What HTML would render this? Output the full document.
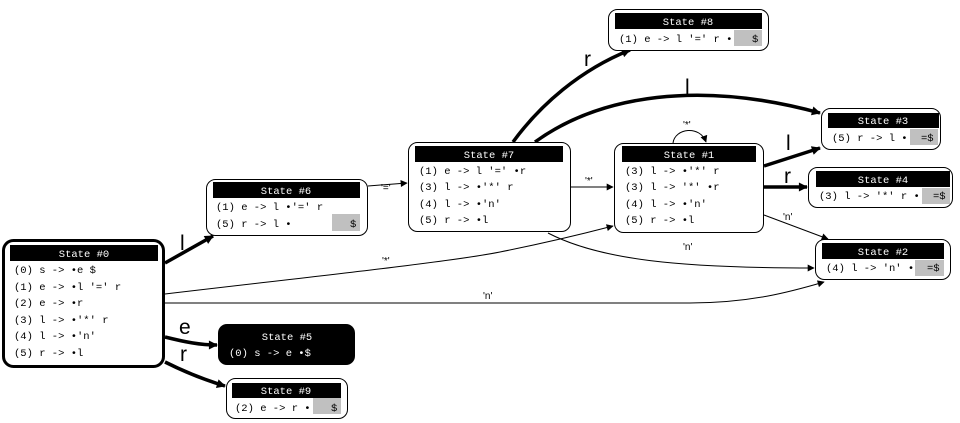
<!DOCTYPE html>
<html><head><meta charset="utf-8"><style>
html,body{margin:0;padding:0;background:#fff;width:960px;height:423px;overflow:hidden}
svg text{font-family:"Liberation Mono",monospace;font-size:10.5px}
.h{fill:#fff;text-anchor:middle}
.lb{font-family:"Liberation Sans",sans-serif;font-size:10px}
.big{font-family:"Liberation Sans",sans-serif;font-size:21px}
</style></head><body>
<svg width="960" height="423" viewBox="0 0 960 423" xmlns="http://www.w3.org/2000/svg">
<defs>
<marker id="a" viewBox="0 0 10 10" refX="9" refY="5" markerWidth="9" markerHeight="7" markerUnits="userSpaceOnUse" orient="auto"><path d="M0,0L10,5L0,10z" fill="#000"/></marker>
<marker id="b" viewBox="0 0 10 10" refX="9" refY="5" markerWidth="11" markerHeight="9" markerUnits="userSpaceOnUse" orient="auto"><path d="M0,0L10,5L0,10z" fill="#000"/></marker>
</defs>
<g fill="none" stroke="#000">
<!-- thin edges -->
<path d="M165,294 C300,278 450,262 500,252 C560,240 590,232 613,226" stroke-width="1" marker-end="url(#a)"/>
<path d="M165,303 L690,303 C750,303 790,292 824,282" stroke-width="1" marker-end="url(#a)"/>
<path d="M368,186 L407,183" stroke-width="1" marker-end="url(#a)"/>
<path d="M571,187 L613,187" stroke-width="1" marker-end="url(#a)"/>
<path d="M548,233 C600,260 680,268 814,268" stroke-width="1" marker-end="url(#a)"/>
<path d="M764,215 L828,239" stroke-width="1" marker-end="url(#a)"/>
<path d="M673,143 C675,128 700,125 706,142" stroke-width="1" marker-end="url(#a)"/>
<!-- thick edges -->
<path d="M165,263 L213,236" stroke-width="3.5" marker-end="url(#b)"/>
<path d="M165,337 C185,342 200,345 217,345" stroke-width="3.5" marker-end="url(#b)"/>
<path d="M165,362 C185,372 205,380 225,386" stroke-width="3.5" marker-end="url(#b)"/>
<path d="M513,142 C540,105 580,70 630,50" stroke-width="3.5" marker-end="url(#b)"/>
<path d="M535,142 C600,95 700,80 820,113" stroke-width="3.5" marker-end="url(#b)"/>
<path d="M764,166 L820,148" stroke-width="3.5" marker-end="url(#b)"/>
<path d="M764,187 L807,187" stroke-width="3.5" marker-end="url(#b)"/>
</g>
<!-- edge labels -->
<g>
<text class="big" x="180" y="250">l</text>
<text class="big" x="179" y="334">e</text>
<text class="big" x="180" y="361">r</text>
<text class="big" x="584" y="66">r</text>
<text class="big" x="685" y="94">l</text>
<text class="big" x="786" y="150">l</text>
<text class="big" x="784" y="183">r</text>
<text class="lb" x="381" y="191">'='</text>
<text class="lb" x="585" y="184">'*'</text>
<text class="lb" x="683" y="128">'*'</text>
<text class="lb" x="382" y="264">'*'</text>
<text class="lb" x="483" y="299">'n'</text>
<text class="lb" x="683" y="250">'n'</text>
<text class="lb" x="783" y="220">'n'</text>
</g>
<!-- State 0 -->
<rect x="3.5" y="240.5" width="160" height="126" rx="10" fill="#fff" stroke="#000" stroke-width="3"/>
<rect x="10" y="245" width="148" height="16" fill="#000"/>
<text class="h" x="84" y="257">State #0</text>
<text x="14" y="273">(0) s -&gt; •e $</text>
<text x="14" y="290">(1) e -&gt; •l '=' r</text>
<text x="14" y="306">(2) e -&gt; •r</text>
<text x="14" y="323">(3) l -&gt; •'*' r</text>
<text x="14" y="339">(4) l -&gt; •'n'</text>
<text x="14" y="356">(5) r -&gt; •l</text>
<!-- State 6 -->
<rect x="206.5" y="179.5" width="161" height="56" rx="9" fill="#fff" stroke="#000"/>
<rect x="213" y="182" width="147" height="16" fill="#000"/>
<text class="h" x="286" y="194">State #6</text>
<rect x="332" y="214" width="28" height="17" fill="#c0c0c0"/>
<text x="216" y="210">(1) e -&gt; l •'=' r</text>
<text x="216" y="227">(5) r -&gt; l •</text>
<text x="350" y="227">$</text>
<!-- State 5 -->
<rect x="218" y="324" width="137" height="41" rx="9" fill="#000"/>
<text class="h" x="287" y="340">State #5</text>
<text x="229" y="356" fill="#fff">(0) s -&gt; e •$</text>
<!-- State 9 -->
<rect x="226.5" y="378.5" width="121" height="40" rx="9" fill="#fff" stroke="#000"/>
<rect x="232" y="383" width="109" height="15" fill="#000"/>
<text class="h" x="286" y="394">State #9</text>
<rect x="313" y="398" width="28" height="16" fill="#c0c0c0"/>
<text x="235" y="411">(2) e -&gt; r •</text>
<text x="331" y="411">$</text>
<!-- State 7 -->
<rect x="408.5" y="142.5" width="162" height="89" rx="9" fill="#fff" stroke="#000"/>
<rect x="415" y="146" width="148" height="16" fill="#000"/>
<text class="h" x="489" y="158">State #7</text>
<text x="419" y="174">(1) e -&gt; l '=' •r</text>
<text x="419" y="190">(3) l -&gt; •'*' r</text>
<text x="419" y="207">(4) l -&gt; •'n'</text>
<text x="419" y="223">(5) r -&gt; •l</text>
<!-- State 1 -->
<rect x="614.5" y="143.5" width="149" height="89" rx="9" fill="#fff" stroke="#000"/>
<rect x="622" y="146" width="134" height="16" fill="#000"/>
<text class="h" x="689" y="158">State #1</text>
<text x="625" y="174">(3) l -&gt; •'*' r</text>
<text x="625" y="190">(3) l -&gt; '*' •r</text>
<text x="625" y="207">(4) l -&gt; •'n'</text>
<text x="625" y="223">(5) r -&gt; •l</text>
<!-- State 8 -->
<rect x="608.5" y="9.5" width="160" height="41" rx="9" fill="#fff" stroke="#000"/>
<rect x="615" y="13" width="147" height="16" fill="#000"/>
<text class="h" x="688" y="25">State #8</text>
<rect x="734" y="30" width="28" height="16" fill="#c0c0c0"/>
<text x="619" y="42">(1) e -&gt; l '=' r •</text>
<text x="752" y="42">$</text>
<!-- State 3 -->
<rect x="821.5" y="108.5" width="119" height="41" rx="9" fill="#fff" stroke="#000"/>
<rect x="828" y="113" width="111" height="15" fill="#000"/>
<text class="h" x="883" y="124">State #3</text>
<rect x="910" y="129" width="28" height="16" fill="#c0c0c0"/>
<text x="832" y="141">(5) r -&gt; l •</text>
<text x="921" y="141">=$</text>
<!-- State 4 -->
<rect x="808.5" y="167.5" width="144" height="40" rx="9" fill="#fff" stroke="#000"/>
<rect x="816" y="171" width="134" height="16" fill="#000"/>
<text class="h" x="883" y="183">State #4</text>
<rect x="922" y="188" width="28" height="16" fill="#c0c0c0"/>
<text x="819" y="199">(3) l -&gt; '*' r •</text>
<text x="933" y="199">=$</text>
<!-- State 2 -->
<rect x="815.5" y="239.5" width="135" height="40" rx="9" fill="#fff" stroke="#000"/>
<rect x="822" y="243" width="122" height="16" fill="#000"/>
<text class="h" x="883" y="255">State #2</text>
<rect x="915" y="260" width="29" height="16" fill="#c0c0c0"/>
<text x="826" y="271">(4) l -&gt; 'n' •</text>
<text x="927" y="271">=$</text>
</svg>
</body></html>
